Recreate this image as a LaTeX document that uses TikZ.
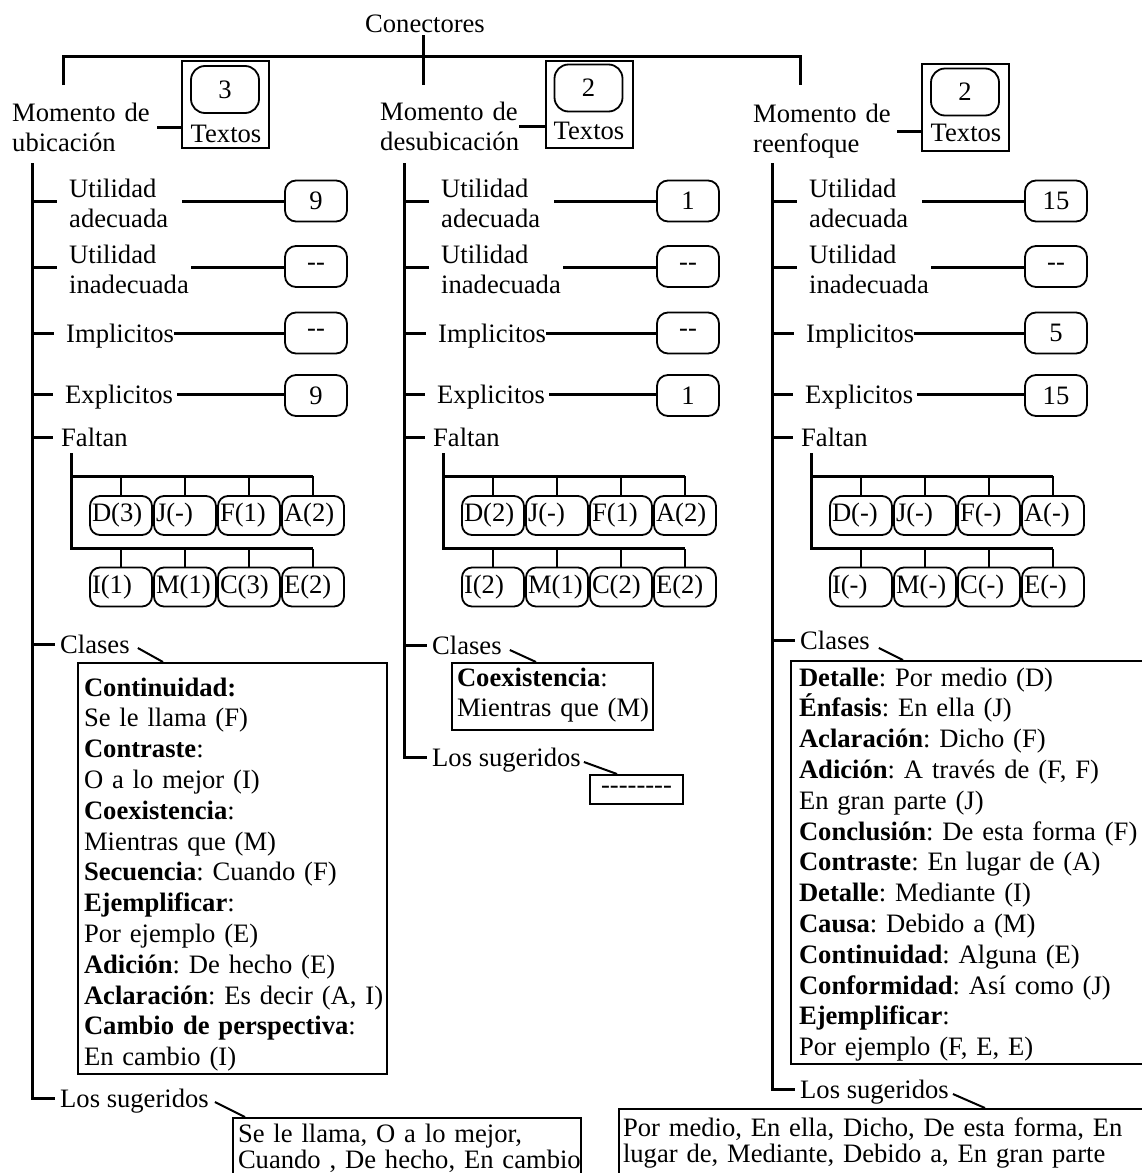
\documentclass[tikz,border=0pt]{standalone}
\usepackage{fontspec}
\setmainfont{Liberation Serif}
\hyphenpenalty=10000
\exhyphenpenalty=10000
\frenchspacing

% One "momento" column: trunk, counted items, missing connectors, class and suggestion labels.
% #1 prefix, #2-#5 counts, #6 first row of letters, #7 second row, #8 y of "Los sugeridos", #9 y of "Clases"
\newcommand\momentbody[9]{%
  \coordinate (#1-top) at (32,163);
  \node[itemtwo,text width=113pt] (#1-ua) at (69,201.5) {Utilidad\\adecuada};
  \node[itemtwo,text width=122pt] (#1-ui) at (69,267.5) {Utilidad\\inadecuada};
  \node[itemtext] (#1-im) at (66,333) {Implicitos};
  \node[itemtext] (#1-ex) at (65,394) {Explicitos};
  \node[itemtext] (#1-fa) at (61,437) {Faltan};
  \node[itemtext] (#1-cl) at (60,#9) {Clases};
  \node[itemtext] (#1-su) at (60,#8) {Los sugeridos};
  \node[valbox] (#1-uav) at (316,201) {#2};
  \node[valbox] (#1-uiv) at (316,266.5) {#3};
  \node[valbox] (#1-imv) at (316,333) {#4};
  \node[valbox] (#1-exv) at (316,395.5) {#5};
  % trunk with its branches
  \draw[trunk] (#1-top) |- ([xshift=-5pt]#1-su.west);
  \foreach \n in {ua,ui,im,ex}
    \draw[trunk] (#1-top |- #1-\n.west) -- ([xshift=-12pt]#1-\n.west);
  \draw[trunk] (#1-top |- #1-fa.west) -- ([xshift=-8pt]#1-fa.west);
  \draw[trunk] (#1-top |- #1-cl.west) -- ([xshift=-5pt]#1-cl.west);
  % links to the counts
  \draw[trunk] (#1-ua.east) -- (#1-ua.east -| #1-uav.west);
  \draw[trunk] (#1-ui.east) -- (#1-ui.east -| #1-uiv.west);
  \draw[trunk] (#1-im.east) -- (#1-im.east -| #1-imv.west);
  \draw[trunk] ([xshift=4pt]#1-ex.east) -- (#1-ex.east -| #1-exv.west);
  % missing connectors in two rows of four
  \foreach \t [count=\i] in {#6}
    \node[letbox] (#1-p\i) at (57+64*\i,515.5) {\t};
  \foreach \t [count=\i] in {#7}
    \node[letbox] (#1-q\i) at (57+64*\i,587) {\t};
  \coordinate (#1-fv) at ([shift={(10pt,-16pt)}]#1-fa.west);
  \path (#1-fv |- #1-p1.north) ++(0,-19) coordinate (#1-r1);
  \path (#1-fv |- #1-q1.north) ++(0,-18) coordinate (#1-r2);
  \draw[trunk] (#1-fv) -- (#1-r2) -- (#1-r2 -| #1-q4.north);
  \draw[trunk] (#1-r1) -- (#1-r1 -| #1-p4.north);
  \foreach \i in {1,...,4} {
    \draw[twig] (#1-p\i.north) -- (#1-p\i.north |- #1-r1);
    \draw[twig] (#1-q\i.north) -- (#1-q\i.north |- #1-r2);
  }
}

\begin{document}
\begin{tikzpicture}[x=1pt,y=-1pt,
  every node/.style={font=\fontsize{26.6}{30.8}\selectfont},
  trunk/.style={line width=3pt},
  twig/.style={line width=1.6pt},
  diag/.style={line width=2pt},
  itemtext/.style={inner sep=0pt,anchor=west,text height=18pt,text depth=0pt},
  itemtwo/.style={inner sep=0pt,anchor=west,align=left,text height=18pt,text depth=27pt},
  hdrtext/.style={inner sep=0pt,anchor=base west,align=left},
  valbox/.style={draw,line width=1.8pt,rounded corners=11pt,minimum width=62pt,minimum height=41pt,inner sep=0pt},
  letbox/.style={draw,line width=1.8pt,rounded corners=10pt,minimum width=62pt,minimum height=39pt,inner xsep=2pt,inner ysep=0pt,text width=58pt,align=left},
  textsbox/.style={draw,line width=2pt,minimum width=87pt,minimum height=87pt,inner sep=0pt},
  numbox/.style={draw,line width=1.8pt,rounded corners=14pt,minimum width=68pt,minimum height=47pt,inner sep=0pt},
  listbox/.style={draw,line width=2pt,anchor=north west,inner xsep=2pt,inner ysep=2pt,align=left},
  sugbox/.style={listbox,font=\fontsize{26.6}{26}\selectfont},
  capt/.style={inner sep=0pt,anchor=base},
]
\useasboundingbox (0,0) rectangle (1141,1173);

% title and top bracket
\node[capt] (con) at (425,32) {Conectores};
\coordinate (d1) at (63,85);
\coordinate (d2) at (423,85);
\coordinate (d3) at (800,85);
\draw[trunk] (d1) -- (d1 |- 0,56) -- (d3 |- 0,56) -- (d3);
\draw[trunk] ([yshift=-3pt]con.south -| d2) -- (d2);

% column headers with their text counts
\node[hdrtext,text width=145pt] (a-h) at (12,121) {Momento de\\ubicación};
\node[textsbox] (a-tx) at (225.5,104.5) {};
\node[numbox] (a-tn) at (225,89.5) {3};
\node[capt] (a-tl) at (226,142) {Textos};
\draw[trunk] (a-h.east) -- (a-h.east -| a-tx.west);

\node[hdrtext,text width=143pt] (b-h) at (380,120) {Momento de\\desubicación};
\node[textsbox] (b-tx) at (589,104) {};
\node[numbox] (b-tn) at (588.5,88) {2};
\node[capt] (b-tl) at (589,139) {Textos};
\draw[trunk] ([xshift=-4pt]b-h.east) -- (b-h.east -| b-tx.west);

\node[hdrtext,text width=144pt] (c-h) at (753,122) {Momento de\\reenfoque};
\node[textsbox] (c-tx) at (965.5,107) {};
\node[numbox] (c-tn) at (965,92) {2};
\node[capt] (c-tl) at (966,141) {Textos};
\draw[trunk] (c-h.east) -- (c-h.east -| c-tx.west);

% column bodies
\momentbody{a}{9}{-{}-}{-{}-}{9}{D(3),J(-),F(1),A(2)}{I(1),M(1),C(3),E(2)}{1098}{644}
\begin{scope}[shift={(372,0)}]
\momentbody{b}{1}{-{}-}{-{}-}{1}{D(2),J(-),F(1),A(2)}{I(2),M(1),C(2),E(2)}{757}{645}
\end{scope}
\begin{scope}[shift={(740,0)}]
\momentbody{c}{15}{-{}-}{5}{15}{D(-),J(-),F(-),A(-)}{I(-),M(-),C(-),E(-)}{1089}{640}
\end{scope}

% classes and suggestions, first column
\node[listbox,text width=305pt,text height=31pt,text depth=376pt] (a-cb) at (77,662)
  {\leftskip=4pt \textbf{Continuidad:}\\Se le llama (F)\\\textbf{Contraste}:\\O a lo mejor (I)\\
   \textbf{Coexistencia}:\\Mientras que (M)\\\textbf{Secuencia}: Cuando (F)\\\textbf{Ejemplificar}:\\
   Por ejemplo (E)\\\textbf{Adición}: De hecho (E)\\\textbf{Aclaración}:~Es~decir~(A,~I)\\
   \textbf{Cambio de perspectiva}:\\En cambio (I)\par};
\draw[diag] ([shift={(8pt,-4pt)}]a-cl.east) -- ([xshift=86pt]a-cb.north west);
\node[sugbox,text width=344pt,text height=22pt,text depth=60pt] (a-sb) at (232,1117)
  {\leftskip=3pt Se le llama, O a lo mejor,\\Cuando~,~De~hecho,~En~cambio\par};
\draw[diag] ([shift={(6pt,-4pt)}]a-su.east) -- ([xshift=13pt]a-sb.north west);

% classes and suggestions, second column
\node[listbox,text width=197pt,text height=21pt,text depth=42pt] (b-cb) at (451,662)
  {\leftskip=3pt \textbf{Coexistencia}:\\Mientras que (M)\par};
\draw[diag] ([shift={(8pt,-5pt)}]b-cl.east) -- ([xshift=85pt]b-cb.north west);
\node[draw,line width=2pt,anchor=north west,minimum width=93pt,minimum height=29pt,inner sep=0pt] (b-sb) at (589,774)
  {\mbox{-{}-{}-{}-{}-{}-{}-{}-}};
\draw[diag] ([shift={(3pt,-5pt)}]b-su.east) -- ([xshift=28pt]b-sb.north west);

% classes and suggestions, third column
\node[listbox,text width=500pt,text height=23pt,text depth=376pt] (c-cb) at (790,660)
  {\leftskip=6pt \textbf{Detalle}: Por medio (D)\\\textbf{Énfasis}: En ella (J)\\\textbf{Aclaración}: Dicho (F)\\
   \textbf{Adición}: A través de (F, F)\\En gran parte (J)\\\textbf{Conclusión}: De esta forma (F)\\
   \textbf{Contraste}: En lugar de (A)\\\textbf{Detalle}: Mediante (I)\\\textbf{Causa}: Debido a (M)\\
   \textbf{Continuidad}: Alguna (E)\\\textbf{Conformidad}: Así como (J)\\\textbf{Ejemplificar}:\\
   Por ejemplo (F, E, E)\par};
\draw[diag] ([shift={(9pt,-8pt)}]c-cl.east) -- ([xshift=113pt]c-cb.north west);
\node[sugbox,text width=539pt,text height=25pt,text depth=60pt] (c-sb) at (618,1108)
  {\hspace*{2pt}\parbox[t]{507pt}{Por medio, En ella, Dicho, De esta forma, En lugar de, Mediante, Debido a, En gran parte}};
\draw[diag] ([shift={(4pt,-5pt)}]c-su.east) -- ([xshift=367pt]c-sb.north west);
\end{tikzpicture}
\end{document}
